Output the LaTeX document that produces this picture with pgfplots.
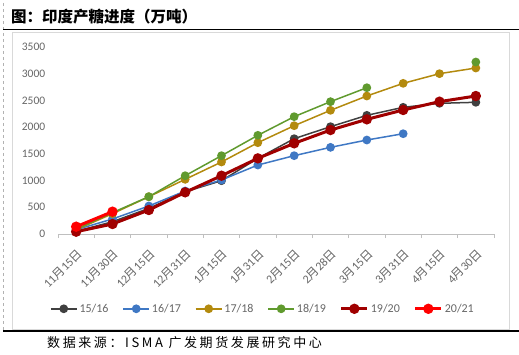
\documentclass[border=0pt]{standalone}
\usepackage{fontspec}
\usepackage{pgfplots}
\pgfplotsset{compat=1.18}
\setmainfont{Carlito}
\newfontfamily\cjk{Noto Sans CJK SC}
\newfontfamily\cjksrc{Noto Sans CJK SC}[LetterSpace=20]
\definecolor{cA}{HTML}{404040}
\definecolor{cB}{HTML}{3F78C4}
\definecolor{cC}{HTML}{B38A0E}
\definecolor{cD}{HTML}{609A2E}
\definecolor{cE}{HTML}{A00000}
\definecolor{cF}{HTML}{FF0000}
\newcommand{\lab}[2]{#1{\cjk 月}#2{\cjk 日}}
\begin{document}
\begin{tikzpicture}
\path[use as bounding box] (0pt,0pt) rectangle (519pt,-355pt);
\draw[black!30, dashed] (3pt,-3pt) -- (3pt,-331pt);
\draw[black, line width=1pt] (3pt,-30pt) -- (519pt,-30pt);
\draw[black!15, line width=0.8pt] (12pt,-32pt) rectangle (509pt,-329pt);
\draw[black, line width=1.2pt] (3pt,-331pt) -- (519pt,-331pt);
\node[anchor=west, inner sep=0pt, font=\cjk\bfseries\fontsize{15.5}{18}\selectfont] at (11pt,-17pt) {图：印度产糖进度（万吨）};
\node[anchor=west, inner sep=0pt, font=\cjksrc\fontsize{13}{15}\selectfont] at (47pt,-343pt) {数据来源：ISMA 广发期货发展研究中心};
\begin{axis}[
 at={(58pt,-234pt)}, anchor=south west,
 scale only axis, width=436pt, height=187pt,
 xmin=-0.5, xmax=11.5, ymin=0, ymax=3500,
 axis x line*=bottom, axis y line*=left,
 x axis line style={draw=black!25, line width=0.8pt},
 y axis line style={draw=none},
 xtick={0,...,11},
 xticklabels={\lab{11}{15},\lab{11}{30},\lab{12}{15},\lab{12}{31},\lab{1}{15},\lab{1}{31},\lab{2}{15},\lab{2}{28},\lab{3}{15},\lab{3}{31},\lab{4}{15},\lab{4}{30}},
 major x tick style={draw=none},
 minor xtick={-0.5,0.5,...,11.5},
 minor x tick style={draw=black!25, line width=0.8pt},
 tick align=outside, minor tick length=4pt,
 ytick={0,500,...,3500}, major y tick style={draw=none},
 yticklabel style={font=\fontsize{11.5}{12}\selectfont, text=black!60, xshift=-5pt},
 xticklabel style={rotate=45, anchor=north east, font=\fontsize{12}{13}\selectfont, text=black!60, inner sep=1pt},
 xticklabel shift=8pt,
 /pgf/number format/assume math mode=true,
 /pgf/number format/1000 sep={},
 unbounded coords=jump,
 clip=false,
 legend style={at={(0.47,-0.40)}, anchor=center, draw=none, fill=none, font=\fontsize{12}{13}\selectfont, text=black!60, /tikz/every even column/.append style={column sep=12pt}},
 legend columns=6,
 legend image code/.code={\draw[mark repeat=2, mark phase=2] plot coordinates {(0pt,0pt)(13pt,0pt)(26pt,0pt)};},
 every axis plot/.append style={mark=*, mark size=3.6pt},
]
\addplot[cA, line width=1.5pt, mark options={fill=cA}] coordinates {(0,50)(1,230)(2,480)(3,790)(4,998)(5,1416)(6,1784)(7,2009)(8,2221)(9,2371)(10,2446)(11,2465)};
\addlegendentry{15/16}
\addplot[cB, line width=1.5pt, mark options={fill=cB}] coordinates {(0,80)(1,281)(2,524)(3,805)(4,1011)(5,1291)(6,1466)(7,1622)(8,1759)(9,1877)};
\addlegendentry{16/17}
\addplot[cC, line width=1.5pt, mark options={fill=cC}] coordinates {(0,80)(1,380)(2,698)(3,1023)(4,1348)(5,1709)(6,2027)(7,2315)(8,2583)(9,2820)(10,3001)(11,3107)};
\addlegendentry{17/18}
\addplot[cD, line width=1.5pt, mark options={fill=cD}] coordinates {(0,90)(1,400)(2,698)(3,1091)(4,1466)(5,1847)(6,2196)(7,2477)(8,2738)(9,nan)(10,nan)(11,3219)};
\addlegendentry{18/19}
\addplot[cE, line width=3pt, mark options={fill=cE}] coordinates {(0,43)(1,187)(2,449)(3,780)(4,1091)(5,1416)(6,1697)(7,1946)(8,2146)(9,2321)(10,2477)(11,2583)};
\addlegendentry{19/20}
\addplot[cF, line width=3pt, mark options={fill=cF}] coordinates {(0,137)(1,418)};
\addlegendentry{20/21}
\end{axis}
\end{tikzpicture}
\end{document}
